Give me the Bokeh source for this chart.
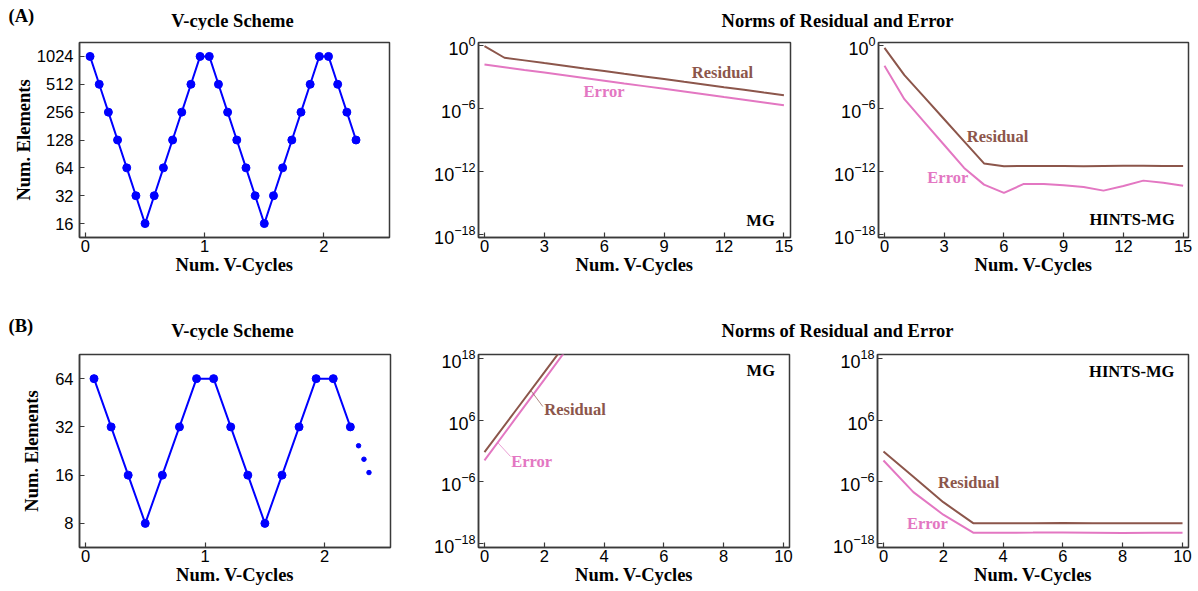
from bokeh.plotting import figure
from bokeh.models import Range1d, FixedTicker, PrintfTickFormatter
from bokeh.layouts import column, row
from bokeh.core.properties import value
from bokeh.embed import file_html
from bokeh.resources import INLINE

# ---------------- data ----------------
# (A) V-cycle scheme
a_cycle_x = [0.0385, 0.1154, 0.1923, 0.2692, 0.3462, 0.4231, 0.5, 0.5769, 0.6538, 0.7308,
             0.8077, 0.8846, 0.9615, 1.0385, 1.1154, 1.1923, 1.2692, 1.3462, 1.4231, 1.5,
             1.5769, 1.6538, 1.7308, 1.8077, 1.8846, 1.9615, 2.0385, 2.1154, 2.1923, 2.2692]
a_cycle_n = [1024, 512, 256, 128, 64, 32, 16, 32, 64, 128, 256, 512, 1024,
             1024, 512, 256, 128, 64, 32, 16, 32, 64, 128, 256, 512, 1024,
             1024, 512, 256, 128]
a_cycle_ticks = [16, 32, 64, 128, 256, 512, 1024]

# (B) V-cycle scheme
b_cycle_x = [0.0714, 0.2143, 0.3571, 0.5, 0.6429, 0.7857, 0.9286, 1.0714, 1.2143, 1.3571,
             1.5, 1.6429, 1.7857, 1.9286, 2.0714, 2.2143]
b_cycle_n = [64, 32, 16, 8, 16, 32, 64, 64, 32, 16, 8, 16, 32, 64, 64, 32]
b_dots_x = [2.283, 2.328, 2.37]
b_dots_n = [24.4, 20.1, 16.6]
b_cycle_ticks = [8, 16, 32, 64]

# (A) norms, log10 values
a_iter = list(range(16))
a_mg_res = [-0.10, -1.20, -1.45, -1.71, -1.96, -2.22, -2.47, -2.73, -2.98, -3.23, -3.49, -3.74, -4.00, -4.25, -4.51, -4.76]
a_mg_err = [-1.84, -2.10, -2.36, -2.61, -2.87, -3.13, -3.39, -3.65, -3.90, -4.16, -4.42, -4.68, -4.94, -5.19, -5.45, -5.71]
a_hm_res = [-0.26, -2.86, -4.95, -7.05, -9.15, -11.25, -11.52, -11.50, -11.50, -11.50, -11.52, -11.50, -11.48, -11.48, -11.50, -11.50]
a_hm_err = [-1.97, -5.14, -7.32, -9.50, -11.68, -13.27, -14.06, -13.20, -13.20, -13.33, -13.50, -13.84, -13.40, -12.89, -13.10, -13.37]
a_norm_ticks = [1e-18, 1e-12, 1e-6, 1.0]
a_x_ticks = [0, 3, 6, 9, 12, 15]

# (B) norms, log10 values
b_mg_iter = [0, 1, 2, 3]
b_mg_res = [-0.23, 7.54, 15.30, 23.10]
b_mg_err = [-1.84, 6.04, 13.90, 21.80]
b_iter = list(range(11))
b_hm_res = [-0.09, -5.00, -9.96, -14.04, -14.04, -14.04, -14.03, -14.04, -14.04, -14.04, -14.04]
b_hm_err = [-1.84, -8.00, -12.40, -15.90, -15.90, -15.88, -15.85, -15.90, -15.95, -15.93, -15.92]
b_norm_ticks = [1e-18, 1e-6, 1e6, 1e18]
b_x_ticks = [0, 2, 4, 6, 8, 10]

# ---------------- style ----------------
BLUE = "#0000ff"
RES = "#8c564b"
ERR = "#e377c2"
FRAME = "#3a3a3a"
SERIF = "Liberation Serif"
SANS = "Liberation Sans"


def pw(vals):
    return [10 ** v for v in vals]


def make_fig(width, height, bl, br, bt, bb, xr, yr, xticks, yticks, ylabel=None, ylog10=True):
    p = figure(width=width, height=height, x_range=Range1d(*xr), y_range=Range1d(*yr),
               y_axis_type="log", output_backend="svg", toolbar_location=None,
               min_border_left=bl, min_border_right=br, min_border_top=bt, min_border_bottom=bb)
    p.outline_line_color = FRAME
    p.outline_line_width = 1.5
    p.xgrid.visible = False
    p.ygrid.visible = False
    p.background_fill_color = "white"
    p.border_fill_color = "white"
    p.xaxis.ticker = FixedTicker(ticks=xticks, minor_ticks=[])
    p.yaxis.ticker = FixedTicker(ticks=yticks, minor_ticks=[])
    if not ylog10:
        p.yaxis.formatter = PrintfTickFormatter(format="%d")
    for ax in (p.xaxis[0], p.yaxis[0]):
        ax.major_tick_in = 5
        ax.major_tick_out = 0
        ax.major_tick_line_color = FRAME
        ax.major_tick_line_width = 1.2
        ax.minor_tick_line_color = None
        ax.axis_line_color = FRAME
        ax.axis_line_width = 1.5
        ax.major_label_text_font = SANS
        ax.major_label_text_font_size = "16.5px"
        ax.major_label_text_color = "black"
        ax.major_label_standoff = 3
        ax.axis_label_text_font = SERIF
        ax.axis_label_text_font_style = "bold"
        ax.axis_label_text_font_size = "18.5px"
        ax.axis_label_text_color = "black"
        ax.axis_label_standoff = 0
    if ylog10:
        p.yaxis.major_label_text_font_size = "18px"
    else:
        p.yaxis.major_label_standoff = 6
    p.xaxis.axis_label = "Num. V-Cycles"
    p.xaxis.major_label_standoff = 2
    if ylabel:
        p.yaxis.axis_label = ylabel
    return p


def label(p, x, ylog, text, color, size="16.5px"):
    p.text(x=[x], y=[10 ** ylog], text=[text], text_color=color,
           text_font=value(SERIF), text_font_style="bold", text_font_size=size,
           text_align="center", text_baseline="middle")


def header(height, items):
    h = figure(width=1198, height=height, x_range=Range1d(0, 1198), y_range=Range1d(height, 0),
               output_backend="svg", toolbar_location=None, x_axis_location=None,
               y_axis_location=None, min_border=0)
    h.outline_line_color = None
    h.grid.visible = False
    for (x, y, t, al) in items:
        h.text(x=[x], y=[y], text=[t], text_font=value(SERIF), text_font_style="bold",
               text_font_size="18.5px", text_align=al, text_baseline="middle", text_color="black")
    return h


# ---------------- row A ----------------
hA = header(30, [(8, 15, "(A)", "left"), (232, 20.5, "V-cycle Scheme", "center"),
                 (837, 20, "Norms of Residual and Error", "center")])

A1 = make_fig(420, 275, 79, 31, 12, 68, (-0.05, 2.55), (2 ** 3.5, 2 ** 10.5),
              [0, 1, 2], a_cycle_ticks, ylabel="Num. Elements", ylog10=False)
A1.line(a_cycle_x, a_cycle_n, line_color=BLUE, line_width=2)
A1.scatter(a_cycle_x, a_cycle_n, size=8, fill_color=BLUE, line_color=BLUE)

A2 = make_fig(380, 275, 58, 10, 12, 68, (-0.3, 15.33), (10 ** -18.3, 10 ** 0.25),
              a_x_ticks, a_norm_ticks)
A2.line(a_iter, pw(a_mg_res), line_color=RES, line_width=2)
A2.line(a_iter, pw(a_mg_err), line_color=ERR, line_width=2)
label(A2, 11.92, -2.64, "Residual", RES)
label(A2, 5.99, -4.45, "Error", ERR)
label(A2, 13.83, -16.67, "MG", "black")

A3 = make_fig(398, 275, 78, 10, 12, 68, (-0.3, 15.27), (10 ** -18.3, 10 ** 0.25),
              a_x_ticks, a_norm_ticks)
A3.line(a_iter, pw(a_hm_res), line_color=RES, line_width=2)
A3.line(a_iter, pw(a_hm_err), line_color=ERR, line_width=2)
label(A3, 5.68, -8.69, "Residual", RES)
label(A3, 3.18, -12.63, "Error", ERR)
label(A3, 12.44, -16.59, "HINTS-MG", "black")

# ---------------- row B ----------------
hB = header(35, [(8, 20, "(B)", "left"), (232, 25.5, "V-cycle Scheme", "center"),
                 (837, 25.5, "Norms of Residual and Error", "center")])

B1 = make_fig(420, 251, 79, 30, 14, 44, (-0.05, 2.55), (2 ** 2.5, 2 ** 6.5),
              [0, 1, 2], b_cycle_ticks, ylabel="Num. Elements", ylog10=False)
B1.yaxis.axis_label_standoff = 10
B1.line(b_cycle_x, b_cycle_n, line_color=BLUE, line_width=2)
B1.scatter(b_cycle_x, b_cycle_n, size=8, fill_color=BLUE, line_color=BLUE)
B1.scatter(b_dots_x, b_dots_n, size=4.5, fill_color=BLUE, line_color=BLUE)

B2 = make_fig(380, 251, 58, 11, 14, 44, (-0.2, 10.2), (10 ** -18.78, 10 ** 18.78),
              b_x_ticks, b_norm_ticks)
B2.line(b_mg_iter, pw(b_mg_res), line_color=RES, line_width=2)
B2.line(b_mg_iter, pw(b_mg_err), line_color=ERR, line_width=2)
B2.segment(x0=[1.56], y0=[10 ** 11.7], x1=[1.95], y1=[10 ** 8.66], line_color=RES, line_width=1, line_alpha=0.7)
B2.segment(x0=[0.45], y0=[10 ** 1.6], x1=[0.87], y1=[10 ** -1.07], line_color=ERR, line_width=1, line_alpha=0.7)
label(B2, 3.03, 8.08, "Residual", RES)
label(B2, 1.58, -2.04, "Error", ERR)
label(B2, 9.24, 15.67, "MG", "black")

B3 = make_fig(398, 251, 77, 10, 14, 44, (-0.2, 10.2), (10 ** -18.78, 10 ** 18.78),
              b_x_ticks, b_norm_ticks)
B3.line(b_iter, pw(b_hm_res), line_color=RES, line_width=2)
B3.line(b_iter, pw(b_hm_err), line_color=ERR, line_width=2)
label(B3, 2.85, -6.07, "Residual", RES)
label(B3, 1.47, -14.16, "Error", ERR)
label(B3, 8.3, 15.53, "HINTS-MG", "black")

layout = column(hA, row(A1, A2, A3), hB, row(B1, B2, B3))

open("out.html", "w").write(file_html(layout, INLINE))
